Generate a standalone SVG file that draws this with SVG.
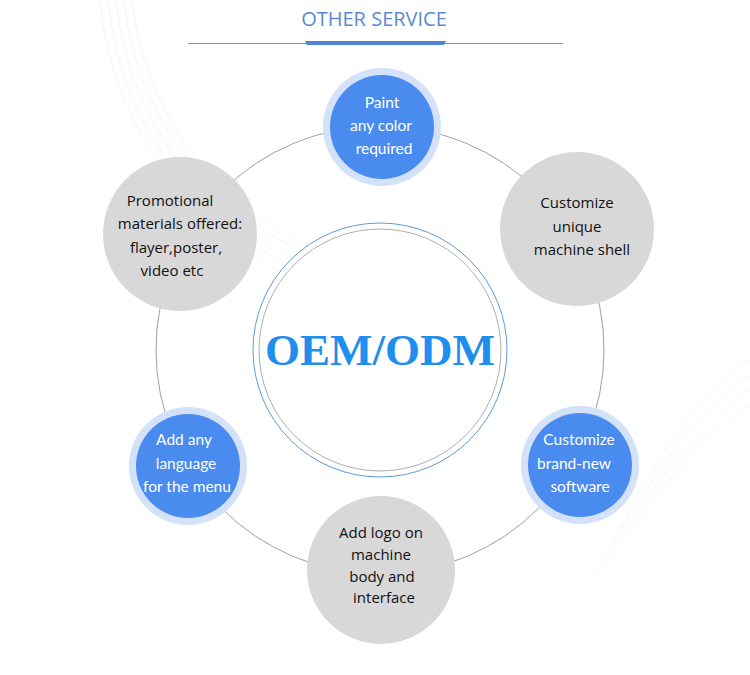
<svg xmlns="http://www.w3.org/2000/svg" width="750" height="675" viewBox="0 0 750 675">
<style>
.bg{fill:none;stroke:#f2f2f2;stroke-width:0.8}
.ring{fill:none;stroke:#a0a0a0;stroke-width:1}
.grey{fill:#d8d8d8}
.halo{fill:#d3e2f8}
.blue{fill:#4a8bef}
.tb{font-family:"Open Sans","DejaVu Sans",sans-serif;font-size:15px;fill:#111;text-anchor:middle}
.tw{font-family:Lato,"Open Sans",sans-serif;font-size:15.5px;fill:#fff;text-anchor:middle}
</style>
<rect width="750" height="675" fill="#fff"/>
<g id="background">
<path class="bg" d="M100,0 A340,340 0 0 0 440,310"/>
<path class="bg" d="M108,0 A330,330 0 0 0 440,300"/>
<path class="bg" d="M116,0 A320,320 0 0 0 440,290"/>
<path class="bg" d="M124,0 A310,310 0 0 0 440,280"/>
<path class="bg" d="M132,0 A300,300 0 0 0 440,270"/>
<path class="bg" d="M620,530 C670,430 715,380 750,360"/>
<path class="bg" d="M612,545 C670,445 715,395 750,375"/>
<path class="bg" d="M604,560 C670,460 715,410 750,390"/>
<path class="bg" d="M596,575 C670,475 715,425 750,405"/>
</g>
<g id="title">
<text x="374" y="26" font-family="'Open Sans','DejaVu Sans',sans-serif" font-size="20" fill="#5a8ad2" text-anchor="middle">OTHER SERVICE</text>
<line x1="188" y1="43.5" x2="563" y2="43.5" stroke="#6b97d6" stroke-width="1"/>
<path d="M305,41 L446,41 L444,45 L307,45 Z" fill="#4f86d8"/>
</g>
<g id="connectors">
<circle class="ring" cx="380" cy="350" r="224"/>
</g>
<g id="center">
<circle cx="380" cy="350" r="127" fill="#fff" stroke="#5b9bd8" stroke-width="1"/>
<circle cx="380" cy="350" r="121" fill="none" stroke="#b0b0b0" stroke-width="1"/>
<text x="380" y="365" font-family="'Liberation Serif',serif" font-weight="bold" font-size="45" fill="#1e8fec" text-anchor="middle">OEM/ODM</text>
</g>
<g id="node-paint">
<circle class="halo" cx="382" cy="127" r="59"/>
<circle class="blue" cx="382" cy="127" r="52"/>
<text class="tw" x="382" y="108" font-size="16.5">Paint</text>
<text class="tw" x="381" y="131" font-size="16.5">any color</text>
<text class="tw" x="384" y="154" font-size="16.5">required</text>
</g>
<g id="node-shell">
<circle class="grey" cx="577" cy="229" r="77"/>
<text class="tb" x="577" y="208">Customize</text>
<text class="tb" x="577" y="232">unique</text>
<text class="tb" x="582" y="255">machine  shell</text>
</g>
<g id="node-software">
<circle class="halo" cx="580" cy="465" r="59"/>
<circle class="blue" cx="580" cy="465" r="52"/>
<text class="tw" x="579" y="445">Customize</text>
<text class="tw" x="574" y="469">brand-new</text>
<text class="tw" x="580" y="492">software</text>
</g>
<g id="node-logo">
<circle class="grey" cx="381" cy="570" r="74"/>
<text class="tb" x="381" y="538">Add logo on</text>
<text class="tb" x="381" y="560">machine</text>
<text class="tb" x="382" y="582">body and</text>
<text class="tb" x="384" y="603">interface</text>
</g>
<g id="node-language">
<circle class="halo" cx="188" cy="466" r="59"/>
<circle class="blue" cx="188" cy="466" r="52"/>
<text class="tw" x="184" y="445">Add any</text>
<text class="tw" x="186" y="469">language</text>
<text class="tw" x="187" y="492">for the menu</text>
</g>
<g id="node-promo">
<circle class="grey" cx="180" cy="234" r="77"/>
<text class="tb" x="170" y="206">Promotional</text>
<text class="tb" x="180" y="229">materials offered:</text>
<text class="tb" x="176" y="253">flayer,poster,</text>
<text class="tb" x="172" y="276">video etc</text>
</g>
</svg>
